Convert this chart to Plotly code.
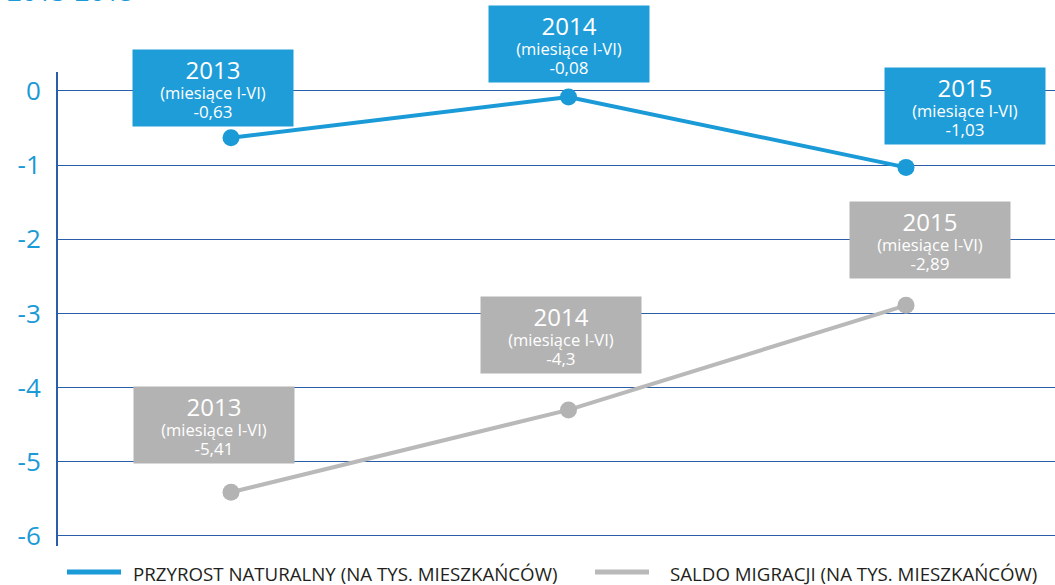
import plotly.graph_objects as go

# ---- data ----
years = ["2013", "2014", "2015"]
przyrost = [-0.63, -0.08, -1.03]
saldo = [-5.41, -4.3, -2.89]
period_label = "(miesiące I-VI)"
y_ticks = [0, -1, -2, -3, -4, -5, -6]
series_names = ["PRZYROST NATURALNY (NA TYS. MIESZKAŃCÓW)", "SALDO MIGRACJI (NA TYS. MIESZKAŃCÓW)"]
title_text = "2013-2015"

# ---- styles ----
BLUE = "#1a9ad6"
BLUE_BOX = "#1f9dd8"
GRAY_LINE = "#b9b9b9"
GRAY_BOX = "#b3b3b3"
AXIS_BLUE = "#2b5ea9"
FONT = "Open Sans"

# box offsets in pixels relative to each point (dx, dy up)
blue_offsets = [(-18, 50), (0, 53), (59, 61)]
gray_offsets = [(-17, 67), (-8, 75), (24, 65)]

fig = go.Figure()

fig.add_trace(go.Scatter(
    x=years, y=przyrost, mode="lines+markers", name=series_names[0],
    line=dict(color=BLUE, width=4), marker=dict(color=BLUE, size=17),
    cliponaxis=False, showlegend=False))
fig.add_trace(go.Scatter(
    x=years, y=saldo, mode="lines+markers", name=series_names[1],
    line=dict(color=GRAY_LINE, width=4), marker=dict(color=GRAY_BOX, size=17),
    cliponaxis=False, showlegend=False))


def fmt(v):
    return str(v).replace(".", ",")


annotations = []
for vals, offs, col in [(przyrost, blue_offsets, BLUE_BOX), (saldo, gray_offsets, GRAY_BOX)]:
    for i, (yr, v, (dx, dy)) in enumerate(zip(years, vals, offs)):
        txt = (f"<span style='font-size:24px'>{yr}</span><br>"
               f"<span style='font-size:16.5px'>{period_label}</span><br>"
               f"<span style='font-size:17px'>{fmt(v)}</span>")
        annotations.append(dict(
            x=i, y=v, xref="x", yref="y", xshift=dx, yshift=dy,
            text=txt, showarrow=False, width=160, height=76,
            bgcolor=col, borderpad=0, xanchor="center", yanchor="middle",
            valign="middle", align="center",
            font=dict(family=FONT, size=15, color="white")))

# legend (manual)
L, R, T, B = 58, 0, 72, 39
W, H = 1055, 585
pw, ph = W - L - R, H - T - B


def px2paper_x(px):
    return (px - L) / pw


def px2paper_y(py):
    return (H - B - py) / ph


legend_y = px2paper_y(572)
shapes = []
for (x0, x1, tx), col, name, lw in [((67, 121, 131), BLUE, series_names[0], 5),
                                    ((595, 649, 668), GRAY_LINE, series_names[1], 5)]:
    shapes.append(dict(type="line", xref="paper", yref="paper",
                       x0=px2paper_x(x0), x1=px2paper_x(x1), y0=legend_y, y1=legend_y,
                       line=dict(color=col, width=lw)))
    annotations.append(dict(x=px2paper_x(tx), y=px2paper_y(573), xref="paper", yref="paper",
                            text=name, showarrow=False, xanchor="left", yanchor="middle",
                            font=dict(family=FONT, size=18.7, color="#231f20")))

annotations.append(dict(x=px2paper_x(6), y=px2paper_y(10), xref="paper", yref="paper",
                        text=title_text, showarrow=False, xanchor="left", yanchor="bottom",
                        borderpad=0, font=dict(family=FONT, size=26, color=BLUE)))

fig.update_layout(
    width=W, height=H,
    margin=dict(l=L, r=R, t=T, b=B),
    paper_bgcolor="white", plot_bgcolor="white",
    showlegend=False,
    xaxis=dict(visible=False, type="category", range=[-0.5126, 2.4415]),
    yaxis=dict(range=[-6.135, 0.256], tickvals=y_ticks,
               ticktext=[str(t) for t in y_ticks],
               showline=True, linecolor=AXIS_BLUE, linewidth=2,
               showgrid=True, gridcolor=AXIS_BLUE, gridwidth=1.3,
               zeroline=False, ticks="", ticklabelstandoff=10,
               tickfont=dict(family=FONT, size=26, color=BLUE)),
    annotations=annotations,
    shapes=shapes,
)

fig.write_html("out.html", config={"displayModeBar": False},
               post_script="document.body.style.margin='0';document.body.style.overflow='hidden';")
